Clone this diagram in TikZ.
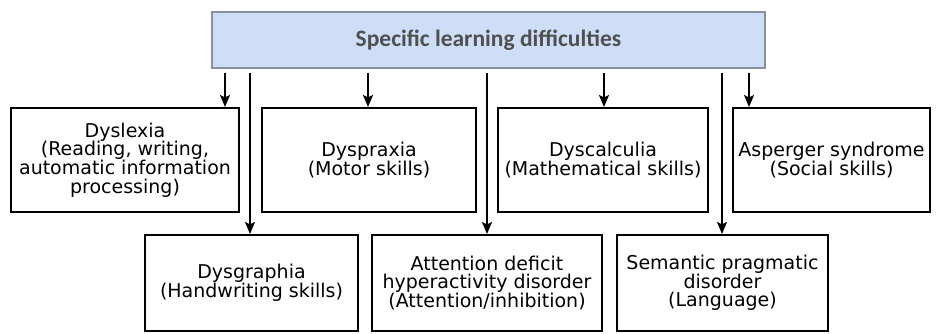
\documentclass[tikz,border=0pt]{standalone}
\usepackage{fontspec}
\setmainfont{DejaVu Sans}
\newfontfamily\headfont{Carlito}
\usetikzlibrary{arrows.meta}
\definecolor{headfill}{HTML}{CDDEF6}
\definecolor{headline}{HTML}{8A939C}
\definecolor{headtext}{HTML}{505050}
\begin{document}
\begin{tikzpicture}[x=1pt,y=-1pt,
  box/.style={draw=black,line width=2pt,fill=white,inner sep=0pt,align=center,
    font=\fontsize{19}{18.7}\selectfont},
  head/.style={draw=headline,fill=headfill,line width=1.3pt,inner sep=0pt,
    minimum width=553pt,minimum height=56pt,text=headtext,
    font=\headfont\bfseries\fontsize{23.5}{25}\selectfont},
  arr/.style={line width=2pt,-{Stealth[length=12pt,width=10pt,inset=2.5pt]},shorten <=4pt}]
\useasboundingbox (0,0) rectangle (936,333);
% heading box
\node[head] (top) at (488.5,40) {Specific learning difficulties};
% first row
\node[box,minimum width=228pt,minimum height=104pt] (dyslexia) at (125,160)
  {Dyslexia\\(Reading, writing,\\automatic information\\processing)};
\node[box,minimum width=214pt,minimum height=104pt] (dyspraxia) at (369,160)
  {Dyspraxia\\(Motor skills)};
\node[box,minimum width=210pt,minimum height=104pt] (dyscalculia) at (603,160)
  {Dyscalculia\\(Mathematical skills)};
\node[box,minimum width=197pt,minimum height=104pt] (asperger) at (831.5,160)
  {Asperger syndrome\\(Social skills)};
% second row
\node[box,minimum width=213pt,minimum height=96pt] (dysgraphia) at (251.5,283)
  {Dysgraphia\\(Handwriting skills)};
\node[box,minimum width=230pt,minimum height=96pt] (adhd) at (487,283)
  {Attention deficit\\hyperactivity disorder\\(Attention/inhibition)};
\node[box,minimum width=211pt,minimum height=96pt] (semantic) at (722.5,283)
  {Semantic pragmatic\\disorder\\(Language)};
% connectors from the heading down to each box
\draw[arr] (top.south -| 225,0) -- (dyslexia.north -| 225,0);
\draw[arr] (top.south -| 250,0) -- (dysgraphia.north -| 250,0);
\draw[arr] (top.south -| 368,0) -- (dyspraxia.north -| 368,0);
\draw[arr] (top.south -| 487,0) -- (adhd.north -| 487,0);
\draw[arr] (top.south -| 604,0) -- (dyscalculia.north -| 604,0);
\draw[arr] (top.south -| 722,0) -- (semantic.north -| 722,0);
\draw[arr] (top.south -| 749,0) -- (asperger.north -| 749,0);
\end{tikzpicture}
\end{document}
